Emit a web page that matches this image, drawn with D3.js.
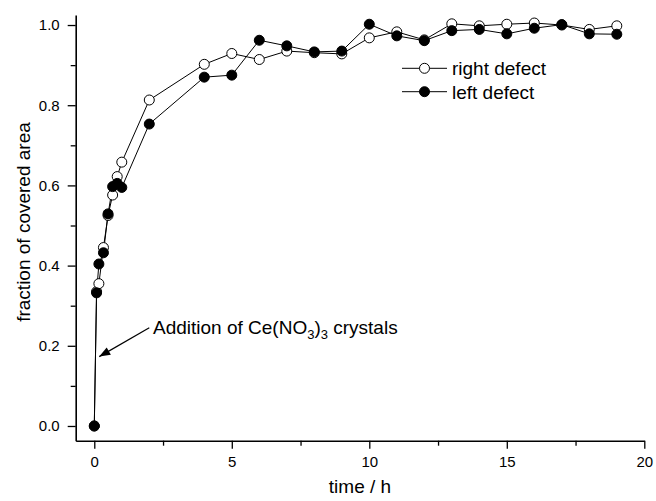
<!DOCTYPE html>
<html>
<head>
<meta charset="utf-8">
<script src="https://cdn.jsdelivr.net/npm/d3@7"></script>
<style>
  html, body { margin: 0; padding: 0; background: #fff; }
  svg { display: block; font-family: "Liberation Sans", Arial, Helvetica, sans-serif; }
</style>
</head>
<body>
<svg id="chart" width="656" height="501"></svg>
<script>
// Measurement times (hours)
const timeH = [0, 0.083, 0.167, 0.333, 0.5, 0.667, 0.833, 1, 2, 4, 5, 6, 7, 8, 9, 10, 11, 12, 13, 14, 15, 16, 17, 18, 19];

// Fraction of covered area, right defect (open circles)
const rightDefect = [0, 0.335, 0.355, 0.445, 0.525, 0.576, 0.622, 0.658, 0.813, 0.902, 0.929, 0.914, 0.935, 0.931, 0.928, 0.968, 0.983, 0.963, 1.003, 0.998, 1.002, 1.005, 1.0, 0.989, 0.998];

// Fraction of covered area, left defect (filled circles)
const leftDefect = [0, 0.332, 0.404, 0.432, 0.529, 0.597, 0.605, 0.595, 0.753, 0.870, 0.875, 0.962, 0.948, 0.933, 0.935, 1.002, 0.973, 0.961, 0.986, 0.989, 0.978, 0.992, 1.001, 0.978, 0.977];

const xTicks = [0, 5, 10, 15, 20];
const xMinorTicks = [2.5, 7.5, 12.5, 17.5];
const yTicks = [0, 0.2, 0.4, 0.6, 0.8, 1.0];
const yMinorTicks = [0.1, 0.3, 0.5, 0.7, 0.9];

const seriesNames = ["right defect", "left defect"];

const svg = d3.select("#chart");

const x = d3.scaleLinear().domain([-0.676, 20]).range([75.7, 644.3]);
const y = d3.scaleLinear().domain([-0.0367, 1.025]).range([440.7, 15]);

const fmt = d3.format(".1f");

// Minor ticks (no labels)
svg.append("g")
  .attr("transform", `translate(0,${y.range()[0]})`)
  .call(d3.axisBottom(x).tickValues(xMinorTicks).tickSize(5).tickFormat(""))
  .call(g => g.select(".domain").remove());
svg.append("g")
  .attr("transform", `translate(${x.range()[0]},0)`)
  .call(d3.axisLeft(y).tickValues(yMinorTicks).tickSize(5).tickFormat(""))
  .call(g => g.select(".domain").remove());

// Major axes
const xAxis = svg.append("g")
  .attr("transform", `translate(0,${y.range()[0]})`)
  .call(d3.axisBottom(x).tickValues(xTicks).tickSize(8).tickSizeOuter(0).tickPadding(8).tickFormat(d3.format("d")));
const yAxis = svg.append("g")
  .attr("transform", `translate(${x.range()[0]},0)`)
  .call(d3.axisLeft(y).tickValues(yTicks).tickSize(8).tickSizeOuter(0).tickPadding(8).tickFormat(fmt));

svg.selectAll(".tick line").attr("stroke", "#000").attr("stroke-width", 1.3);
svg.selectAll(".domain").attr("stroke", "#000").attr("stroke-width", 1.6);
svg.selectAll(".tick text")
  .attr("font-family", "'Liberation Sans', Arial, sans-serif")
  .attr("font-size", 15)
  .attr("fill", "#000");

// Axis titles
svg.append("text")
  .attr("x", (x.range()[0] + x.range()[1]) / 2)
  .attr("y", 493)
  .attr("text-anchor", "middle")
  .attr("font-size", 19)
  .text("time / h");

svg.append("text")
  .attr("transform", `translate(30,222) rotate(-90)`)
  .attr("text-anchor", "middle")
  .attr("font-size", 19)
  .text("fraction of covered area");

// Series
const line = d3.line().x(d => x(d[0])).y(d => y(d[1]));
const openData = timeH.map((t, i) => [t, rightDefect[i]]);
const filledData = timeH.map((t, i) => [t, leftDefect[i]]);

const R = 5;

svg.append("path").datum(openData)
  .attr("d", line).attr("fill", "none").attr("stroke", "#000").attr("stroke-width", 1);
svg.append("path").datum(filledData)
  .attr("d", line).attr("fill", "none").attr("stroke", "#000").attr("stroke-width", 1);

svg.append("g").selectAll("circle").data(openData).join("circle")
  .attr("cx", d => x(d[0])).attr("cy", d => y(d[1])).attr("r", R)
  .attr("fill", "#fff").attr("stroke", "#000").attr("stroke-width", 1);

svg.append("g").selectAll("circle").data(filledData).join("circle")
  .attr("cx", d => x(d[0])).attr("cy", d => y(d[1])).attr("r", R)
  .attr("fill", "#000").attr("stroke", "#000").attr("stroke-width", 1);

// Legend
const legend = svg.append("g");
const legendRows = [
  { name: seriesNames[0], fill: "#fff", cy: 68.3 },
  { name: seriesNames[1], fill: "#000", cy: 91.7 }
];
legendRows.forEach(r => {
  legend.append("line")
    .attr("x1", 402).attr("x2", 447).attr("y1", r.cy).attr("y2", r.cy)
    .attr("stroke", "#000").attr("stroke-width", 1);
  legend.append("circle")
    .attr("cx", 424.5).attr("cy", r.cy).attr("r", R)
    .attr("fill", r.fill).attr("stroke", "#000").attr("stroke-width", 1);
  legend.append("text")
    .attr("x", 452).attr("y", r.cy + 6.8)
    .attr("font-size", 19)
    .text(r.name);
});

// Annotation with arrow
const tip = [x(0.18), y(0.173)];
const tail = [x(2.0), y(0.245)];
svg.append("line")
  .attr("x1", tail[0]).attr("y1", tail[1])
  .attr("x2", tip[0]).attr("y2", tip[1])
  .attr("stroke", "#000").attr("stroke-width", 1.2);
{
  const ang = Math.atan2(tip[1] - tail[1], tip[0] - tail[0]);
  const L = 11, W = 4.2;
  const bx = tip[0] - L * Math.cos(ang), by = tip[1] - L * Math.sin(ang);
  const px = -Math.sin(ang) * W, py = Math.cos(ang) * W;
  svg.append("path")
    .attr("d", `M${tip[0]},${tip[1]}L${bx + px},${by + py}L${bx - px},${by - py}Z`)
    .attr("fill", "#000");
}

const ann = svg.append("text")
  .attr("x", 153).attr("y", 334)
  .attr("font-size", 19);
ann.append("tspan").text("Addition of Ce(NO");
ann.append("tspan").attr("font-size", 13).attr("dy", 5).text("3");
ann.append("tspan").attr("dy", -5).text(")");
ann.append("tspan").attr("font-size", 13).attr("dy", 5).text("3");
ann.append("tspan").attr("dy", -5).text(" crystals");
</script>
</body>
</html>
